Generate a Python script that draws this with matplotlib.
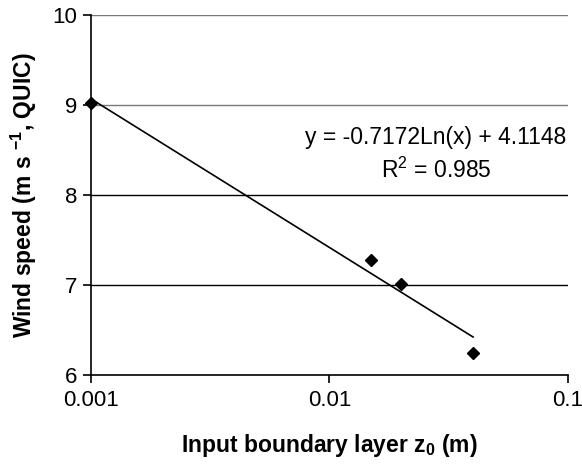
import numpy as np
import matplotlib
matplotlib.use("Agg")
import matplotlib.pyplot as plt

plt.rcParams['font.family'] = ['Liberation Sans', 'DejaVu Sans']
plt.rcParams['mathtext.fontset'] = 'custom'
plt.rcParams['mathtext.rm'] = 'Liberation Sans'
plt.rcParams['mathtext.bf'] = 'Liberation Sans:bold'

# data
z0 = [0.001, 0.015, 0.02, 0.04]
wind = [9.02, 7.28, 7.01, 6.25]

# log trendline as printed on the chart
slope = -0.7172
intercept = 4.1148
r2 = 0.985

fig = plt.figure(figsize=(5.82, 4.66), dpi=100)
ax = fig.add_axes([0.156, 0.195, 0.82, 0.773])

ax.set_xscale('log')
ax.set_xlim(0.001, 0.1)
ax.set_ylim(6, 10)
ax.set_yticks([6, 7, 8, 9, 10])
ax.set_xticks([0.001, 0.01, 0.1])
ax.set_xticklabels(['0.001', '0.01', '0.1'])
ax.xaxis.set_minor_locator(matplotlib.ticker.NullLocator())

for yv in [7, 8, 9, 10]:
    ax.axhline(yv, color='#777777' if yv in (9, 10) else 'black', lw=1, zorder=1)

xt = np.array([min(z0), max(z0)])
ax.plot(xt, slope * np.log(xt) + intercept, color='black', lw=1.2, zorder=2)
ax.plot(z0, wind, 'D', color='black', ms=6, clip_on=False, zorder=3)

ax.spines['top'].set_visible(False)
ax.spines['right'].set_visible(False)
ax.spines['left'].set_linewidth(1.2)
ax.spines['bottom'].set_linewidth(1.2)
ax.tick_params(direction='out', length=6, width=1.2, labelsize=16)
ax.tick_params(axis='x', pad=5)

ax.text(0.028, 8.64, 'y = -0.7172Ln(x) + 4.1148', ha='center', va='center', fontsize=16.5)
ax.text(0.028, 8.28, 'R$^2$ = %.3f' % r2, ha='center', va='center', fontsize=16.5)

ax.set_xlabel('Input boundary layer z$_\\mathbf{0}$ (m)', fontsize=16.5, fontweight='bold', labelpad=15)
ax.set_ylabel('Wind speed (m s $^{\\mathbf{-1}}$, QUIC)', fontsize=16.5, fontweight='bold', labelpad=10)

fig.savefig('out.png', dpi=100)
